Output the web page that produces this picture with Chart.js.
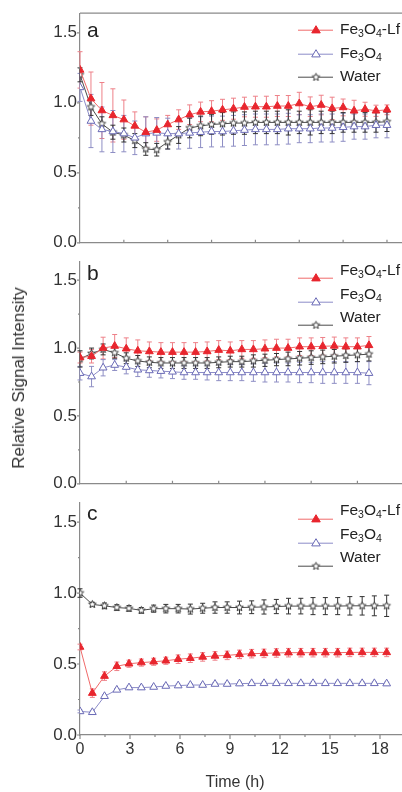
<!DOCTYPE html>
<html>
<head>
<meta charset="utf-8">
<script src="https://cdn.jsdelivr.net/npm/chart.js@4.4.1/dist/chart.umd.min.js"></script>
<style>
body { margin: 0; background: #fff; overflow: hidden; font-family: "Liberation Sans", Arial, sans-serif; }
#fig { position: relative; width: 402px; height: 792px; overflow: hidden; }
.box { position: absolute; left: 0; width: 440px; }
.leg { position: absolute; left: 340px; font-size: 15.5px; line-height: 20px; color: #222; white-space: nowrap; }
.leg sub { font-size: 10.5px; vertical-align: -3px; line-height: 0; }
.tag { position: absolute; left: 87px; font-size: 21px; line-height: 21px; color: #222; }
#ytitle { position: absolute; left: 19px; top: 378px; font-size: 17px; color: #333; white-space: nowrap;
          transform: translate(-50%, -50%) rotate(-90deg); }
#xtitle { position: absolute; left: 235px; top: 782px; font-size: 16px; color: #333; white-space: nowrap;
          transform: translate(-50%, -50%); }
</style>
</head>
<body>
<div id="fig">
  <div class="box" style="top:0;height:256px"><canvas id="pa"></canvas></div>
  <div class="box" style="top:248px;height:249px"><canvas id="pb"></canvas></div>
  <div class="box" style="top:489px;height:303px"><canvas id="pc"></canvas></div>

  <div class="tag" style="top:19px">a</div>
  <div class="tag" style="top:262px">b</div>
  <div class="tag" style="top:502px">c</div>

  <div class="leg" style="top:19px">Fe<sub>3</sub>O<sub>4</sub>-Lf</div>
  <div class="leg" style="top:43px">Fe<sub>3</sub>O<sub>4</sub></div>
  <div class="leg" style="top:66px">Water</div>
  <div class="leg" style="top:260px">Fe<sub>3</sub>O<sub>4</sub>-Lf</div>
  <div class="leg" style="top:284px">Fe<sub>3</sub>O<sub>4</sub></div>
  <div class="leg" style="top:307px">Water</div>
  <div class="leg" style="top:500px">Fe<sub>3</sub>O<sub>4</sub>-Lf</div>
  <div class="leg" style="top:524px">Fe<sub>3</sub>O<sub>4</sub></div>
  <div class="leg" style="top:547px">Water</div>

  <div id="ytitle">Relative Signal Intensity</div>
  <div id="xtitle">Time (h)</div>
</div>

<script>
// series names
const names = ['Fe3O4-Lf', 'Fe3O4', 'Water'];

// panel a (sample number, no time labels on this panel)
const sampA = [0, 1, 2, 3, 4, 5, 6, 7, 8, 9, 10, 11, 12, 13, 14, 15, 16, 17, 18, 19, 20, 21, 22, 23, 24, 25, 26, 27, 28];
const lfA = [1.235, 1.03, 0.945, 0.91, 0.88, 0.835, 0.79, 0.805, 0.845, 0.88, 0.915, 0.935, 0.94, 0.95, 0.958, 0.97, 0.972, 0.972, 0.977, 0.977, 0.995, 0.972, 0.984, 0.96, 0.967, 0.943, 0.954, 0.943, 0.95];
const lfErrA = [0.13, 0.19, 0.2, 0.19, 0.14, 0.1, 0.11, 0.08, 0.065, 0.07, 0.07, 0.07, 0.075, 0.075, 0.075, 0.07, 0.075, 0.075, 0.075, 0.075, 0.08, 0.07, 0.07, 0.08, 0.06, 0.075, 0.05, 0.04, 0.035];
const feA = [1.11, 0.87, 0.81, 0.795, 0.78, 0.75, 0.78, 0.785, 0.78, 0.78, 0.785, 0.79, 0.795, 0.795, 0.8, 0.805, 0.81, 0.81, 0.81, 0.815, 0.815, 0.815, 0.82, 0.82, 0.825, 0.83, 0.83, 0.84, 0.84];
const feErrA = [0.1, 0.19, 0.16, 0.15, 0.13, 0.12, 0.12, 0.11, 0.11, 0.11, 0.11, 0.11, 0.11, 0.11, 0.11, 0.11, 0.11, 0.11, 0.11, 0.11, 0.1, 0.1, 0.1, 0.1, 0.1, 0.09, 0.09, 0.09, 0.09];
const waA = [1.2, 0.97, 0.85, 0.79, 0.77, 0.73, 0.67, 0.665, 0.72, 0.77, 0.82, 0.835, 0.845, 0.85, 0.855, 0.855, 0.86, 0.86, 0.86, 0.86, 0.86, 0.86, 0.86, 0.86, 0.86, 0.86, 0.86, 0.86, 0.865];
const waErrA = [0.05, 0.06, 0.05, 0.05, 0.05, 0.05, 0.045, 0.045, 0.05, 0.06, 0.07, 0.07, 0.07, 0.08, 0.08, 0.08, 0.08, 0.08, 0.08, 0.09, 0.08, 0.09, 0.08, 0.08, 0.07, 0.07, 0.07, 0.07, 0.07];

// panel b
const sampB = [0, 1, 2, 3, 4, 5, 6, 7, 8, 9, 10, 11, 12, 13, 14, 15, 16, 17, 18, 19, 20, 21, 22, 23, 24, 25];
const lfB = [0.93, 0.94, 1.0, 1.015, 0.995, 0.98, 0.975, 0.97, 0.97, 0.97, 0.97, 0.975, 0.985, 0.98, 0.99, 0.99, 0.995, 1.0, 1.0, 1.01, 1.01, 1.013, 1.016, 1.01, 1.01, 1.02];
const lfErrB = [0.04, 0.05, 0.08, 0.085, 0.08, 0.08, 0.07, 0.07, 0.07, 0.07, 0.07, 0.07, 0.07, 0.065, 0.065, 0.065, 0.065, 0.065, 0.065, 0.065, 0.065, 0.065, 0.065, 0.065, 0.065, 0.065];
const feB = [0.815, 0.79, 0.855, 0.875, 0.86, 0.84, 0.835, 0.83, 0.825, 0.82, 0.82, 0.82, 0.82, 0.82, 0.82, 0.82, 0.82, 0.82, 0.82, 0.82, 0.82, 0.82, 0.82, 0.82, 0.82, 0.815];
const feErrB = [0.05, 0.075, 0.06, 0.04, 0.05, 0.05, 0.05, 0.05, 0.05, 0.05, 0.05, 0.055, 0.06, 0.06, 0.06, 0.065, 0.07, 0.07, 0.07, 0.075, 0.075, 0.08, 0.08, 0.08, 0.08, 0.085];
const waB = [0.92, 0.96, 0.99, 0.965, 0.925, 0.905, 0.895, 0.89, 0.89, 0.89, 0.89, 0.89, 0.895, 0.9, 0.9, 0.905, 0.91, 0.915, 0.92, 0.925, 0.93, 0.935, 0.94, 0.945, 0.95, 0.955];
const waErrB = [0.06, 0.04, 0.04, 0.04, 0.04, 0.04, 0.04, 0.04, 0.04, 0.04, 0.04, 0.04, 0.04, 0.04, 0.04, 0.045, 0.045, 0.045, 0.05, 0.05, 0.05, 0.05, 0.05, 0.05, 0.05, 0.05];

// panel c, time in hours
const timeC = [0, 0.74, 1.47, 2.21, 2.94, 3.68, 4.42, 5.15, 5.89, 6.62, 7.36, 8.1, 8.83, 9.57, 10.3, 11.04, 11.78, 12.51, 13.25, 13.98, 14.72, 15.46, 16.19, 16.93, 17.66, 18.4];
const lfC = [0.62, 0.295, 0.415, 0.484, 0.502, 0.51, 0.516, 0.523, 0.534, 0.541, 0.55, 0.557, 0.561, 0.568, 0.573, 0.575, 0.578, 0.58, 0.58, 0.58, 0.58, 0.58, 0.582, 0.582, 0.582, 0.582];
const lfErrC = [0.02, 0.03, 0.03, 0.03, 0.025, 0.025, 0.025, 0.025, 0.03, 0.03, 0.03, 0.03, 0.03, 0.03, 0.03, 0.03, 0.03, 0.03, 0.03, 0.03, 0.03, 0.03, 0.03, 0.03, 0.03, 0.03];
const feC = [0.166, 0.16, 0.273, 0.318, 0.334, 0.334, 0.338, 0.345, 0.348, 0.352, 0.352, 0.359, 0.359, 0.362, 0.364, 0.364, 0.364, 0.364, 0.364, 0.364, 0.364, 0.364, 0.364, 0.364, 0.364, 0.362];
const feErrC = [0.01, 0.01, 0.01, 0.01, 0.01, 0.01, 0.01, 0.01, 0.01, 0.01, 0.01, 0.01, 0.01, 0.01, 0.01, 0.01, 0.01, 0.01, 0.01, 0.01, 0.01, 0.01, 0.01, 0.01, 0.01, 0.01];
const waC = [1.0, 0.92, 0.91, 0.898, 0.892, 0.878, 0.89, 0.89, 0.89, 0.887, 0.893, 0.898, 0.898, 0.898, 0.9, 0.902, 0.905, 0.908, 0.908, 0.908, 0.908, 0.908, 0.91, 0.91, 0.91, 0.91];
const waErrC = [0.03, 0.015, 0.02, 0.02, 0.02, 0.02, 0.025, 0.03, 0.03, 0.035, 0.035, 0.04, 0.04, 0.045, 0.045, 0.05, 0.05, 0.055, 0.055, 0.06, 0.06, 0.06, 0.065, 0.065, 0.07, 0.075];

// axis ticks
const yTicks = [0, 0.5, 1.0, 1.5];
const yMinor = [0.25, 0.75, 1.25];
const xTicksA = [4, 8, 12, 16, 20, 24, 28];
const xTicksB = [4, 8, 12, 16, 20, 24, 28];
const xTicksC = [0, 3, 6, 9, 12, 15, 18];
const xMinorC = [1.5, 4.5, 7.5, 10.5, 13.5, 16.5];

const AXIS = '#8a8a8a';
const RED = '#e8262e', RED_LINE = '#f06a6a', RED_ERR = '#ee8088';
const BLUE = '#6a6ab6', BLUE_LINE = '#8c8cc8', BLUE_ERR = '#8e8ec4';
const DARK = '#3c3c3c', DARK_LINE = '#4a4a4a', DARK_ERR = '#333';
const FONT = '"Liberation Sans", Arial, sans-serif';

function starImage(r, stroke) {
  const c = document.createElement('canvas');
  const s = Math.ceil(r * 2 + 3);
  c.width = c.height = s;
  const g = c.getContext('2d');
  g.beginPath();
  for (let k = 0; k < 10; k++) {
    const a = -Math.PI / 2 + k * Math.PI / 5;
    const rr = k % 2 ? r * 0.45 : r;
    g.lineTo(s / 2 + rr * Math.cos(a), s / 2 + rr * Math.sin(a));
  }
  g.closePath();
  g.fillStyle = '#fff';
  g.fill();
  g.strokeStyle = stroke;
  g.lineWidth = 1;
  g.stroke();
  return c;
}
const STAR = starImage(4, DARK);

const errorBars = {
  id: 'errorBars',
  beforeDatasetsDraw(chart) {
    const { ctx, scales: { x, y } } = chart;
    chart.data.datasets.forEach((ds) => {
      ctx.save();
      ctx.strokeStyle = ds.errColor;
      ctx.lineWidth = 1;
      ds.data.forEach((p, i) => {
        const e = ds.errors[i];
        const px = x.getPixelForValue(p.x);
        const t = y.getPixelForValue(p.y + e), b = y.getPixelForValue(p.y - e);
        ctx.beginPath();
        ctx.moveTo(px, t); ctx.lineTo(px, b);
        ctx.moveTo(px - 2.5, t); ctx.lineTo(px + 2.5, t);
        ctx.moveTo(px - 2.5, b); ctx.lineTo(px + 2.5, b);
        ctx.stroke();
      });
      ctx.restore();
    });
  }
};

// tick marks, top frame and legend swatches
const frame = {
  id: 'frame',
  afterDraw(chart, args, opts) {
    const { ctx, chartArea: ca, scales: { x, y } } = chart;
    ctx.save();
    ctx.strokeStyle = AXIS;
    ctx.lineWidth = 1.2;
    ctx.beginPath();
    if (opts.top) { ctx.moveTo(ca.left, ca.top); ctx.lineTo(ca.right, ca.top); }
    yTicks.forEach(v => { const py = y.getPixelForValue(v); ctx.moveTo(ca.left - 3, py); ctx.lineTo(ca.left, py); });
    yMinor.forEach(v => { const py = y.getPixelForValue(v); ctx.moveTo(ca.left - 2, py); ctx.lineTo(ca.left, py); });
    opts.inner.forEach(v => { const px = x.getPixelForValue(v); ctx.moveTo(px, ca.bottom); ctx.lineTo(px, ca.bottom - 3); });
    opts.outer.forEach(v => { const px = x.getPixelForValue(v); ctx.moveTo(px, ca.bottom); ctx.lineTo(px, ca.bottom + 4); });
    opts.outerMinor.forEach(v => { const px = x.getPixelForValue(v); ctx.moveTo(px, ca.bottom); ctx.lineTo(px, ca.bottom + 2); });
    ctx.stroke();

    // legend swatches
    const rows = [17, 41, 64];
    chart.data.datasets.forEach((ds, i) => {
      const ly = ca.top + rows[i];
      ctx.strokeStyle = ds.borderColor;
      ctx.lineWidth = 1;
      ctx.beginPath(); ctx.moveTo(298, ly); ctx.lineTo(333, ly); ctx.stroke();
      const mx = 316;
      if (ds.pointStyle === 'triangle') {
        const r = ds.pointRadius;
        ctx.beginPath();
        ctx.moveTo(mx, ly - r);
        ctx.lineTo(mx + r * 0.95, ly + r * 0.6);
        ctx.lineTo(mx - r * 0.95, ly + r * 0.6);
        ctx.closePath();
        ctx.fillStyle = ds.pointBackgroundColor;
        ctx.fill();
        ctx.strokeStyle = ds.pointBorderColor;
        ctx.stroke();
      } else {
        ctx.drawImage(ds.pointStyle, mx - ds.pointStyle.width / 2, ly - ds.pointStyle.height / 2);
      }
    });
    ctx.restore();
  }
};

function series(xs, ys, errs, kind) {
  const data = xs.map((x, i) => ({ x: x, y: ys[i] }));
  if (kind === 0) return { label: names[0], data, errors: errs, errColor: RED_ERR, borderColor: RED_LINE,
    pointStyle: 'triangle', pointRadius: 4.5, pointBackgroundColor: RED, pointBorderColor: RED, borderWidth: 1 };
  if (kind === 1) return { label: names[1], data, errors: errs, errColor: BLUE_ERR, borderColor: BLUE_LINE,
    pointStyle: 'triangle', pointRadius: 4.5, pointBackgroundColor: '#fff', pointBorderColor: BLUE, borderWidth: 1 };
  return { label: names[2], data, errors: errs, errColor: DARK_ERR, borderColor: DARK_LINE,
    pointStyle: STAR, pointRadius: 4, borderWidth: 1 };
}

function panel(id, o) {
  return new Chart(document.getElementById(id), {
    type: 'line',
    data: { datasets: o.sets },
    options: {
      responsive: true,
      maintainAspectRatio: false,
      animation: false,
      layout: { padding: { top: o.padTop, right: 30, left: 0, bottom: 0 } },
      plugins: { legend: { display: false }, tooltip: { enabled: false }, frame: o.frame },
      scales: {
        x: {
          type: 'linear', min: 0, max: o.xMax,
          grid: { display: false, drawTicks: false },
          border: { color: AXIS, width: 1.2 },
          ticks: o.xLabels ? {
            autoSkip: false, stepSize: 3, includeBounds: false, padding: 5, color: '#333',
            font: { family: FONT, size: 16 },
            callback: v => xTicksC.includes(v) ? String(v) : ''
          } : { display: false },
          afterFit: s => { s.height = o.xH; }
        },
        y: {
          min: 0, max: 1.64,
          grid: { display: false, drawTicks: false },
          border: { color: AXIS, width: 1.2 },
          ticks: {
            stepSize: 0.5, includeBounds: false, padding: 3, color: '#333',
            font: { family: FONT, size: 17 },
            callback: v => yTicks.includes(v) ? v.toFixed(1) : ''
          },
          afterFit: s => { s.width = 80; }
        }
      }
    },
    plugins: [errorBars, frame]
  });
}

panel('pa', {
  padTop: 12, xMax: 30.1, xH: 4, xLabels: false,
  frame: { top: true, inner: xTicksA, outer: [], outerMinor: [] },
  sets: [series(sampA, lfA, lfErrA, 0), series(sampA, feA, feErrA, 1), series(sampA, waA, waErrA, 2)]
});
panel('pb', {
  padTop: 4, xMax: 28.55, xH: 4, xLabels: false,
  frame: { top: false, inner: xTicksB, outer: [], outerMinor: [] },
  sets: [series(sampB, lfB, lfErrB, 0), series(sampB, feB, feErrB, 1), series(sampB, waB, waErrB, 2)]
});
panel('pc', {
  padTop: 4, xMax: 19.8, xH: 57, xLabels: true,
  frame: { top: false, inner: [], outer: xTicksC, outerMinor: xMinorC },
  sets: [series(timeC, lfC, lfErrC, 0), series(timeC, feC, feErrC, 1), series(timeC, waC, waErrC, 2)]
});
</script>
</body>
</html>
